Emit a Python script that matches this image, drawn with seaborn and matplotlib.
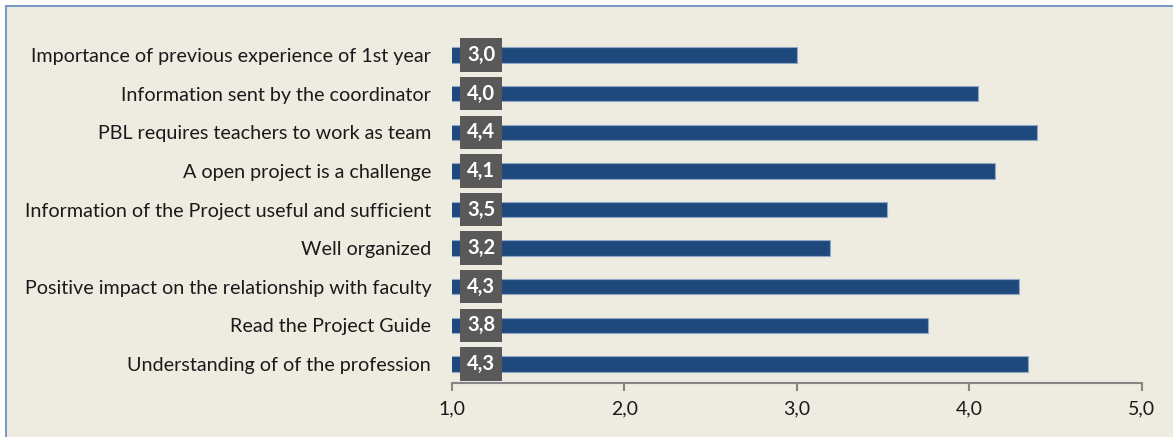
import numpy as np
import pandas as pd
import matplotlib
matplotlib.use("Agg")
import matplotlib.pyplot as plt
import seaborn as sns
from matplotlib.patches import Rectangle

# Data
categories = [
    "Importance of previous experience of 1st year",
    "Information sent by the coordinator",
    "PBL requires teachers to work as team",
    "A open project is a challenge",
    "Information of the Project useful and sufficient",
    "Well organized",
    "Positive impact on the relationship with faculty",
    "Read the Project Guide",
    "Understanding of of the profession",
]
scores = [3.00, 4.05, 4.39, 4.15, 3.52, 3.19, 4.29, 3.76, 4.34]
score_labels = ["3,0", "4,0", "4,4", "4,1", "3,5", "3,2", "4,3", "3,8", "4,3"]
x_ticks = [1, 2, 3, 4, 5]
x_tick_labels = ["1,0", "2,0", "3,0", "4,0", "5,0"]

BG = "#EEECE1"
BAR = "#1F497D"
BOX = "#595959"
AXIS = "#868686"

sns.set_theme(style="white")
plt.rcParams["font.family"] = ["Lato", "DejaVu Sans"]

df = pd.DataFrame({"item": categories, "score": scores})

fig = plt.figure(figsize=(11.73, 4.37), dpi=100, facecolor="white")
# chart area background with thin blue frame on top/left
fig.patches.append(Rectangle((6 / 1173, -0.05), 1.1, 1 - 6 / 437 + 0.05,
                             transform=fig.transFigure, facecolor=BG,
                             edgecolor="#7B9BC4", linewidth=1.5, zorder=-10))

ax = fig.add_axes([452 / 1173, 53.7 / 437, 689.7 / 1173, 347.6 / 437])
ax.set_facecolor("none")

sns.barplot(data=df, x="score", y="item", orient="h", color=BAR,
            width=0.4, saturation=1, edgecolor="#8FA8C8", linewidth=0.8, ax=ax)

ax.set_xlim(1, 5)
ax.set_ylim(len(categories) - 0.5, -0.5)
ax.set_xticks(x_ticks)
ax.set_xticklabels(x_tick_labels)
ax.set_xlabel("")
ax.set_ylabel("")

for side in ["top", "right", "left"]:
    ax.spines[side].set_visible(False)
ax.spines["bottom"].set_color(AXIS)
ax.spines["bottom"].set_linewidth(1.5)

ax.tick_params(axis="x", direction="out", length=6, width=1.5, color=AXIS,
               labelsize=14, labelcolor="#1a1a1a", pad=6, bottom=True)
ax.tick_params(axis="y", length=0, labelsize=14.2, labelcolor="#1a1a1a", pad=15)

# value boxes near the left end of each bar
for i, lab in enumerate(score_labels):
    ax.text(1.168, i, lab, ha="center", va="center", color="white",
            fontsize=14.5, fontweight="bold",
            bbox=dict(boxstyle="square,pad=0.33", facecolor=BOX, edgecolor="none"))

fig.savefig("out.png", dpi=100, facecolor=fig.get_facecolor())
